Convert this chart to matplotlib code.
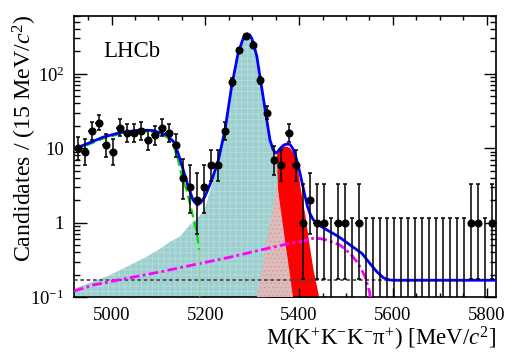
import numpy as np
import matplotlib
matplotlib.use("Agg")
import matplotlib.pyplot as plt
from matplotlib.ticker import MultipleLocator, FixedLocator, FixedFormatter, LogLocator, NullFormatter

plt.rcParams['font.family'] = ['Liberation Serif', 'DejaVu Serif']
plt.rcParams['mathtext.fontset'] = 'custom'
plt.rcParams['mathtext.rm'] = 'Liberation Serif'
plt.rcParams['mathtext.it'] = 'Liberation Serif:italic'
plt.rcParams['hatch.linewidth'] = 0.5

# ---------------- data ----------------
bin_low = 4920.0
bin_width = 15.0
counts = [10, 9, 17, 22, 11, 9, 19, 16, 16, 17,
          13, 15, 19, 16, 11, 4, 3, 2, 3, 6,
          6, 17, 77, 208, 320, 248, 82, 30, 7, 6,
          16, 6, 1, 2, 1, 1, 0, 1, 1, 0,
          1, 0, 0, 0, 0, 0, 0, 0, 0, 0,
          0, 0, 0, 0, 0, 0, 1, 1, 0, 1]

# total fit (blue)
total_m = [4920, 4954, 4982, 5018, 5061, 5089, 5118, 5132, 5142, 5153,
           5164, 5174, 5183, 5190, 5199, 5214, 5228, 5242, 5256, 5270,
           5276, 5281, 5286, 5290, 5295, 5299, 5305, 5310, 5320, 5330,
           5338, 5344, 5349, 5354, 5360, 5367, 5374, 5381, 5387, 5392,
           5397, 5402, 5408, 5413, 5418, 5423, 5430, 5438, 5448, 5459,
           5484, 5509, 5534, 5551, 5566, 5580, 5594, 5605, 5820]
total_v = [9.8, 11.9, 14.1, 16.2, 17.6, 17.3, 15.1, 12.3, 8.6, 5.1,
           3.0, 2.0, 1.72, 1.85, 2.23, 3.74, 6.96, 17.6, 67, 190,
           245, 302, 335, 345, 332, 302, 226, 171, 67, 26.6,
           12.9, 9.8, 8.6, 8.9, 10.0, 11.0, 11.4, 11.2, 9.8, 8.1,
           6.2, 4.6, 3.1, 2.23, 1.65, 1.33, 1.1, 0.98, 0.88, 0.80,
           0.65, 0.50, 0.386, 0.283, 0.218, 0.181, 0.169, 0.168, 0.168]

# B0-like peak component (teal fill)
teal_m = [4920, 4960, 4997, 5030, 5068, 5100, 5125, 5146, 5167, 5189,
          5200, 5210, 5220, 5228, 5242, 5256, 5270, 5276, 5281, 5286,
          5290, 5295, 5299, 5305, 5310, 5320, 5330, 5338, 5344, 5349,
          5353, 5356, 5360, 5365, 5372]
teal_v = [0.13, 0.16, 0.197, 0.25, 0.33, 0.43, 0.553, 0.65, 0.93, 1.25,
          1.6, 2.6, 4.3, 6.4, 17, 66, 187, 242, 298, 330,
          340, 328, 298, 222, 168, 65, 25.5, 12.3, 9.2, 7.9,
          7.6, 2.0, 0.8, 0.3, 0.08]

# Bs-like peak component (red fill)
red_m = [5330, 5340, 5348, 5354, 5358, 5363, 5370, 5375, 5381, 5388,
         5395, 5402, 5413, 5420, 5430, 5441, 5448]
red_v = [2.0, 4.0, 7.0, 9.3, 10.0, 10.6, 10.7, 10.6, 10.0, 8.5,
         6.3, 3.04, 1.2, 0.58, 0.23, 0.107, 0.06]

# partially reconstructed peak (pink hatched)
pink_m = [5300, 5310, 5320, 5330, 5340, 5347, 5353, 5360, 5370, 5380, 5387, 5395]
pink_v = [0.05, 0.1, 0.23, 0.51, 1.17, 2.1, 3.4, 1.64, 0.58, 0.21, 0.1, 0.05]

# low-mass background (green dashed)
green_m = [4920, 4954, 4982, 5018, 5061, 5089, 5118, 5132, 5142, 5150,
           5160, 5167, 5174, 5182, 5187]
green_v = [9.4, 11.4, 13.5, 15.6, 16.9, 16.5, 14.2, 11.0, 7.0, 4.15,
           2.75, 1.82, 1.2, 0.72, 0.43]
green_tail_m = [5187, 5189]
green_tail_v = [0.43, 0.05]

# another background (magenta dash-dot)
mag_m = [4920, 4961, 5032, 5100, 5174, 5250, 5319, 5381, 5402, 5430,
         5445, 5459, 5487, 5509, 5526, 5541, 5551, 5555]
mag_v = [0.12, 0.145, 0.178, 0.215, 0.27, 0.34, 0.43, 0.526, 0.553, 0.615,
         0.61, 0.583, 0.50, 0.386, 0.283, 0.187, 0.112, 0.05]

# combinatorial (flat, grey dashed)
comb_m = [4920, 5820]
comb_v = [0.168, 0.168]

x_ticks = [5000, 5200, 5400, 5600, 5800]
y_ticks = [0.1, 1, 10, 100]
y_ticklabels = [r'$10^{-1}$', '1', '10', r'$10^{2}$']

# ---------------- Poisson (Garwood) error bars ----------------
GARWOOD = {0: (0.0, 1.147), 1: (0.173, 3.300), 2: (0.708, 4.638),
           3: (1.367, 5.918), 4: (2.086, 7.163), 5: (2.840, 8.382)}

def interval(n):
    if n in GARWOOD:
        return GARWOOD[n]
    return (n - np.sqrt(n - 0.25), n + 1 + np.sqrt(n + 0.75))

counts = np.array(counts)
centers = bin_low + bin_width * (np.arange(len(counts)) + 0.5)
nz = counts > 0
lo = np.array([interval(n)[0] for n in counts])
hi = np.array([interval(n)[1] for n in counts])

# ---------------- figure ----------------
fig = plt.figure(figsize=(5.23, 3.54), dpi=100)
ax = fig.add_axes([74/523, 1-297/354, 422/523, 281/354])
ax.set_yscale('log')

ax.fill_between(red_m, 1e-3, red_v, color='#ff0000', lw=0, zorder=1)
ax.fill_between(teal_m, 1e-3, teal_v, facecolor='#9ecfcf', edgecolor='#b9dede',
                hatch='+++', lw=0, zorder=2)
ax.fill_between(pink_m, 1e-3, pink_v, facecolor='#d9bcbc', edgecolor='#e89090',
                hatch='....', lw=0, zorder=3)

ax.plot(comb_m, comb_v, color='#444444', ls=(0, (2.2, 1.6)), lw=1.2, zorder=4)
ax.plot(mag_m, mag_v, color='#ff00ff', ls=(0, (3.5, 1.2, 1, 1.2)), lw=2.0, zorder=5)
ax.plot(green_m, green_v, color='#00dd00', ls=(0, (4, 2)), lw=1.6, zorder=6)
ax.plot(green_tail_m, green_tail_v, color='#88dd88', lw=0.6, zorder=6)
ax.plot(total_m, total_v, color='#0000ff', lw=2.0, zorder=7)

# data
ax.errorbar(centers[nz], counts[nz],
            yerr=[counts[nz] - lo[nz], hi[nz] - counts[nz]],
            fmt='none', ecolor='black', elinewidth=1.1, capsize=1.6, capthick=1.1, zorder=8)
ax.errorbar(centers[nz], counts[nz], xerr=bin_width / 2,
            fmt='none', ecolor='black', elinewidth=1.1, capsize=0, zorder=8)
ax.errorbar(centers[~nz], np.full((~nz).sum(), 1e-3),
            yerr=[np.zeros((~nz).sum()), hi[~nz] - 1e-3],
            fmt='none', ecolor='black', elinewidth=1.1, capsize=1.3, capthick=1.1, zorder=8)
ax.plot(centers[nz], counts[nz], 'o', color='black', ms=4.8, zorder=9)

ax.set_xlim(4920, 5820)
ax.set_ylim(0.1, 600)

ax.xaxis.set_major_locator(FixedLocator(x_ticks))
ax.xaxis.set_minor_locator(MultipleLocator(50))
ax.yaxis.set_major_locator(FixedLocator(y_ticks))
ax.yaxis.set_major_formatter(FixedFormatter(y_ticklabels))
ax.yaxis.set_minor_locator(LogLocator(base=10, subs=np.arange(2, 10), numticks=20))
ax.yaxis.set_minor_formatter(NullFormatter())

ax.tick_params(axis='both', which='both', direction='in', top=True, right=True,
               labelsize=13.5, width=1.0)
ax.tick_params(axis='x', which='major', length=6.5, pad=7)
ax.tick_params(axis='x', which='minor', length=3.2)
ax.tick_params(axis='y', which='major', length=9, pad=7)
ax.tick_params(axis='y', which='minor', length=4.5)
for s in ax.spines.values():
    s.set_linewidth(1.2)

ax.set_xlabel(r'M(K$^{+}$K$^{-}$K$^{-}$π$^{+}$) [MeV/$c^{2}$]', fontsize=16.5,
              loc='right', labelpad=1)
ax.set_ylabel(r'Candidates / (15 MeV/$c^{2}$)', fontsize=17.2, loc='top')
ax.yaxis.set_label_coords(-0.082, 1.005)

ax.text(0.069, 0.872, 'LHCb', transform=ax.transAxes, fontsize=16.5,
        ha='left', va='center', zorder=10)

fig.savefig('out.png', dpi=100)
